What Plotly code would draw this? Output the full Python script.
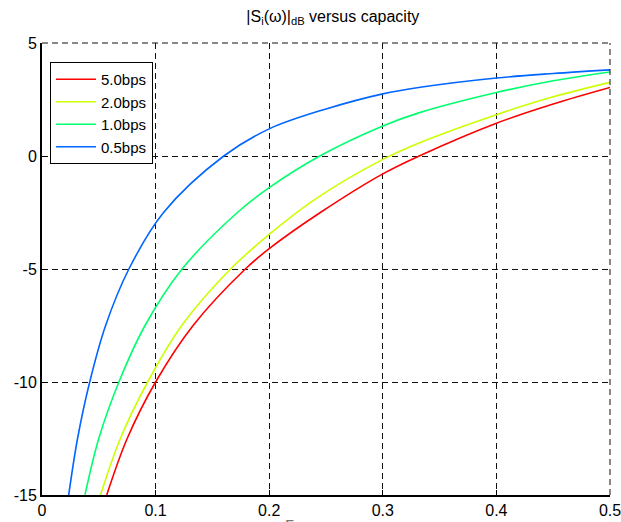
import plotly.graph_objects as go

# Data
series_names = ["5.0bps", "2.0bps", "1.0bps", "0.5bps"]
series_colors = ["#FF0000", "#CCFF00", "#00FF6E", "#0066FF"]

x_5bps = [0.057, 0.075, 0.100, 0.133, 0.179, 0.200, 0.245, 0.300, 0.332, 0.400, 0.450, 0.500]
y_5bps = [-15.0, -12.5, -10.0, -7.5, -5.0, -4.1, -2.5, -0.79, 0.0, 1.45, 2.30, 3.03]

x_2bps = [0.0515, 0.069, 0.093, 0.123, 0.166, 0.200, 0.239, 0.300, 0.333, 0.400, 0.450, 0.500]
y_2bps = [-15.0, -12.5, -10.0, -7.5, -5.0, -3.47, -1.96, -0.15, 0.6, 1.83, 2.62, 3.26]

x_1bps = [0.0378, 0.050, 0.0677, 0.0907, 0.1233, 0.172, 0.200, 0.2445, 0.300, 0.333, 0.400, 0.450, 0.500]
y_1bps = [-15.0, -12.5, -10.0, -7.5, -5.0, -2.5, -1.4, 0.0, 1.33, 1.93, 2.81, 3.33, 3.72]

x_05bps = [0.0235, 0.0313, 0.042, 0.056, 0.0765, 0.107, 0.160, 0.200, 0.250, 0.300, 0.333, 0.400, 0.450, 0.500]
y_05bps = [-15.0, -12.5, -10.0, -7.5, -5.0, -2.5, 0.0, 1.2, 2.08, 2.75, 3.04, 3.45, 3.65, 3.81]

series_x = [x_5bps, x_2bps, x_1bps, x_05bps]
series_y = [y_5bps, y_2bps, y_1bps, y_05bps]

x_ticks = [0, 0.1, 0.2, 0.3, 0.4, 0.5]
x_tick_labels = ["0", "0.1", "0.2", "0.3", "0.4", "0.5"]
y_ticks = [-15, -10, -5, 0, 5]
y_tick_labels = ["-15", "-10", "-5", "0", "5"]

fig = go.Figure()
for name, color, xs, ys in zip(series_names, series_colors, series_x, series_y):
    fig.add_trace(go.Scatter(x=xs, y=ys, mode="lines", name=name,
                             line=dict(color=color, width=1.6, shape="spline", smoothing=1.0)))

font_family = "Liberation Sans, Arial, sans-serif"
grid_dash = "6px,4px"

fig.update_layout(
    width=621, height=522,
    margin=dict(l=42, r=11, t=43, b=27, autoexpand=False),
    paper_bgcolor="white", plot_bgcolor="white",
    font=dict(family=font_family, size=16, color="black"),
    title=dict(text="|S<sub>i</sub>(ω)|<sub>dB</sub> versus capacity",
               xref="container", x=0.536, xanchor="center",
               yref="container", y=0.98, yanchor="top",
               font=dict(size=16, family=font_family, color="black")),
    showlegend=True,
    legend=dict(x=0.014, y=0.958, xanchor="left", yanchor="top",
                bgcolor="white", bordercolor="black", borderwidth=1,
                font=dict(size=15, family=font_family, color="black"),
                tracegroupgap=0, itemwidth=40),
    xaxis=dict(range=[0, 0.5], tickvals=x_ticks, ticktext=x_tick_labels,
               showgrid=True, gridcolor="#111", griddash=grid_dash, gridwidth=1,
               zeroline=False, showline=True, linecolor="black", linewidth=2,
               ticks="inside", ticklen=5, tickcolor="black", tickwidth=1,
               tickfont=dict(size=16), fixedrange=True, automargin=False,
               ticklabeloverflow="allow"),
    yaxis=dict(range=[-15, 5], tickvals=y_ticks, ticktext=y_tick_labels,
               showgrid=True, gridcolor="#111", griddash=grid_dash, gridwidth=1,
               zeroline=False, showline=True, linecolor="black", linewidth=2,
               ticks="inside", ticklen=5, tickcolor="black", tickwidth=1,
               tickfont=dict(size=16), fixedrange=True, automargin=False,
               ticklabeloverflow="allow"),
)

# top and right edges shown as dashed grid lines, as in the reference
fig.add_shape(type="line", xref="paper", yref="paper", x0=0, x1=1, y0=1, y1=1,
              line=dict(color="#111", width=1, dash=grid_dash))
fig.add_shape(type="line", xref="paper", yref="paper", x0=1, x1=1, y0=0, y1=1,
              line=dict(color="#111", width=1, dash=grid_dash))

# partially visible x-axis title at the very bottom edge
fig.add_annotation(text="Γ", xref="paper", yref="paper", x=0.436, y=-0.047,
                   xanchor="center", yanchor="top", showarrow=False,
                   font=dict(size=16, color="#777", family=font_family))

fig.write_html("out.html")
